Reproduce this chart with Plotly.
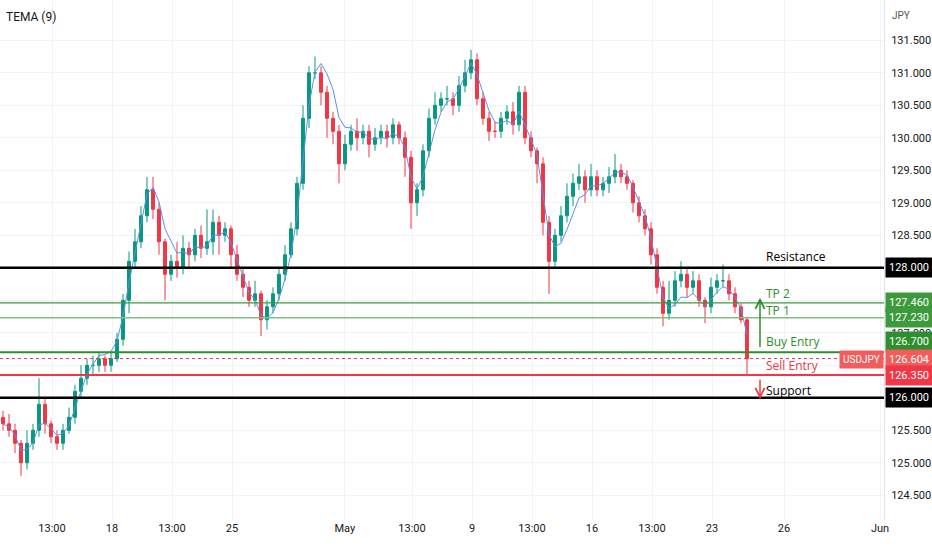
import numpy as np
import plotly.graph_objects as go

# 4h candles, USDJPY, closes
closes = [125.6, 125.5, 125.3, 125.0, 125.3, 125.5, 125.9, 125.6, 125.4, 125.3,
          125.5, 125.7, 126.1, 126.3, 126.5, 126.5, 126.6, 126.5, 126.6, 126.9,
          127.5, 128.1, 128.4, 128.8, 129.2, 128.9, 128.4, 127.9, 128.1, 128.0,
          128.3, 128.2, 128.5, 128.3, 128.4, 128.7, 128.5, 128.6, 128.2, 127.9,
          127.7, 127.5, 127.6, 127.2, 127.4, 127.6, 127.9, 128.2, 128.6, 129.3,
          130.3, 131.0, 131.0, 130.7, 130.3, 130.1, 129.6, 129.9, 130.1, 130.0,
          130.1, 129.9, 130.0, 130.1, 130.0, 130.2, 130.0, 129.7, 129.0, 129.2,
          129.8, 130.3, 130.5, 130.6, 130.6, 130.5, 130.8, 131.0, 131.2, 130.6,
          130.3, 130.1, 130.1, 130.3, 130.4, 130.2, 130.7, 130.0, 129.8, 129.6,
          128.7, 128.1, 128.5, 128.8, 129.1, 129.3, 129.4, 129.2, 129.4, 129.2,
          129.3, 129.4, 129.5, 129.4, 129.3, 129.0, 128.8, 128.6, 128.2, 127.7,
          127.3, 127.5, 127.8, 127.9, 127.7, 127.8, 127.5, 127.4, 127.7, 127.8,
          127.8, 127.6, 127.4, 127.2, 126.6]
wick_hi = [0.10, 0.15, 0.10, 0.05, 0.20, 0.10, 0.40, 0.10, 0.05, 0.10,
           0.10, 0.15, 0.10, 0.20, 0.10, 0.15, 0.10, 0.05, 0.10, 0.10,
           0.10, 0.15, 0.20, 0.15, 0.20, 0.20, 0.10, 0.05, 0.10, 0.30,
           0.20, 0.10, 0.10, 0.15, 0.50, 0.20, 0.10, 0.10, 0.05, 0.15,
           0.10, 0.10, 0.20, 0.05, 0.10, 0.10, 0.10, 0.15, 0.10, 0.10,
           0.20, 0.10, 0.25, 0.10, 0.10, 0.10, 0.10, 0.15, 0.10, 0.20,
           0.10, 0.10, 0.15, 0.10, 0.10, 0.10, 0.05, 0.10, 0.10, 0.10,
           0.10, 0.15, 0.20, 0.10, 0.20, 0.10, 0.15, 0.20, 0.15, 0.10,
           0.10, 0.10, 0.15, 0.10, 0.10, 0.15, 0.10, 0.10, 0.10, 0.05,
           0.10, 0.10, 0.10, 0.15, 0.20, 0.15, 0.20, 0.10, 0.20, 0.10,
           0.10, 0.15, 0.25, 0.10, 0.10, 0.05, 0.10, 0.10, 0.10, 0.10,
           0.10, 0.30, 0.15, 0.20, 0.10, 0.15, 0.10, 0.05, 0.15, 0.10,
           0.25, 0.10, 0.10, 0.05, 0.05]
wick_lo = [0.10, 0.10, 0.15, 0.20, 0.10, 0.10, 0.10, 0.15, 0.10, 0.10,
           0.10, 0.05, 0.10, 0.10, 0.10, 0.15, 0.10, 0.10, 0.10, 0.05,
           0.10, 0.20, 0.10, 0.10, 0.10, 0.15, 0.20, 0.40, 0.10, 0.15,
           0.10, 0.20, 0.10, 0.15, 0.10, 0.20, 0.30, 0.10, 0.20, 0.10,
           0.15, 0.10, 0.10, 0.25, 0.15, 0.10, 0.10, 0.10, 0.05, 0.10,
           0.10, 0.15, 0.10, 0.20, 0.30, 0.20, 0.30, 0.10, 0.10, 0.20,
           0.10, 0.20, 0.10, 0.10, 0.15, 0.10, 0.10, 0.30, 0.40, 0.20,
           0.10, 0.10, 0.10, 0.10, 0.10, 0.15, 0.10, 0.10, 0.10, 0.10,
           0.10, 0.15, 0.10, 0.10, 0.10, 0.15, 0.10, 0.10, 0.10, 0.30,
           0.20, 0.50, 0.10, 0.10, 0.10, 0.15, 0.10, 0.20, 0.10, 0.10,
           0.10, 0.15, 0.10, 0.10, 0.10, 0.15, 0.10, 0.10, 0.15, 0.10,
           0.20, 0.10, 0.10, 0.10, 0.15, 0.10, 0.10, 0.25, 0.10, 0.10,
           0.10, 0.10, 0.10, 0.05, 0.25]
first_open = 125.7

# levels
resistance, tp2, tp1, buy_entry, last_price, sell_entry, support = \
    128.0, 127.46, 127.23, 126.7, 126.604, 126.35, 126.0

tick_vals = [-2.5, 0, 2.5, 5, 9.7, 12.5, 15, 17.5, 20, 22.5, 25, 28, 32]
tick_text = ["13:00", "18", "13:00", "25", "May", "13:00", "9", "13:00",
             "16", "13:00", "23", "26", "Jun"]
price_ticks = [124.5, 125, 125.5, 126, 126.5, 127, 127.5, 128, 128.5, 129,
               129.5, 130, 130.5, 131, 131.5]

GREEN, RED = "#089981", "#f23645"
n = len(closes)
x = [(i * 6 + 3 - 112) / 24 for i in range(n)]
opens = [first_open] + closes[:-1]
highs = [max(o, c) + w for o, c, w in zip(opens, closes, wick_hi)]
lows = [min(o, c) - w for o, c, w in zip(opens, closes, wick_lo)]


def ema(v, p):
    a = 2 / (p + 1)
    out = [v[0]]
    for val in v[1:]:
        out.append(a * val + (1 - a) * out[-1])
    return np.array(out)


e1 = ema(closes, 9)
e2 = ema(e1, 9)
e3 = ema(e2, 9)
tema = 3 * e1 - 3 * e2 + e3

fig = go.Figure()
fig.add_trace(go.Candlestick(
    x=x, open=opens, high=highs, low=lows, close=closes,
    increasing=dict(line=dict(color=GREEN, width=1), fillcolor=GREEN),
    decreasing=dict(line=dict(color=RED, width=1), fillcolor=RED),
    whiskerwidth=0, showlegend=False,
))
fig.add_trace(go.Scatter(x=x, y=tema, mode="lines",
                         line=dict(color="#5b8ff0", width=1), showlegend=False))

X0, X1 = -112 / 24, (884 - 112) / 24
lines = [(resistance, "#000000", 2.5, "solid"), (tp2, "#3c9a3c", 1.2, "solid"),
         (tp1, "#7fbf7f", 1.5, "solid"), (buy_entry, "#2f8f2f", 2, "solid"),
         (last_price, "#f23645", 1, "dot"), (sell_entry, "#f23645", 2, "solid"),
         (support, "#000000", 2.5, "solid")]
for yv, col, w, d in lines:
    fig.add_shape(type="line", x0=X0, x1=X1, y0=yv, y1=yv,
                  line=dict(color=col, width=w, dash=d))

# right-axis price boxes (value, colour, vertical nudge so they don't collide)
boxes = [(resistance, "#000000", 0), (tp2, "#3c9a3c", 0), (tp1, "#3c9a3c", 0),
         (buy_entry, "#2f8f2f", 11), (last_price, "#f25c5c", -1),
         (sell_entry, "#f23645", 0), (support, "#000000", 0)]
for yv, col, ys in boxes:
    fig.add_annotation(x=1.0, xref="paper", y=yv, yref="y", xanchor="left",
                       text=f"{yv:.3f}", showarrow=False, bgcolor=col,
                       font=dict(color="white", size=11), borderpad=3,
                       xshift=1, yshift=ys)
fig.add_annotation(x=X1, y=last_price, xanchor="right", text="USDJPY",
                   showarrow=False, bgcolor="#f25c5c", yshift=-1,
                   font=dict(color="white", size=10), borderpad=3)

labels = [("Resistance", 128.18, "#000000"), ("TP 2", 127.60, "#2f8f2f"),
          ("TP 1", 127.34, "#2f8f2f"), ("Buy Entry", 126.86, "#2f8f2f"),
          ("Sell Entry", 126.49, "#f23645"), ("Support", 126.11, "#000000")]
for t, yv, col in labels:
    fig.add_annotation(x=(764 - 112) / 24, y=yv, xanchor="left", text=t,
                       showarrow=False, font=dict(color=col, size=12,
                                                  family="Open Sans"))

ax = (760 - 112) / 24
fig.add_annotation(x=ax, y=127.54, ax=ax, ay=126.76, xref="x", yref="y",
                   axref="x", ayref="y", showarrow=True, arrowhead=5,
                   arrowsize=1.2, arrowwidth=1.5, arrowcolor="#2f8f2f", text="")
fig.add_annotation(x=ax, y=125.98, ax=ax, ay=126.3, xref="x", yref="y",
                   axref="x", ayref="y", showarrow=True, arrowhead=5,
                   arrowsize=1.2, arrowwidth=1.5, arrowcolor="#f23645", text="")

fig.add_annotation(x=0.005, y=0.985, xref="paper", yref="paper", text="TEMA (9)",
                   showarrow=False, xanchor="left", font=dict(size=12, color="#131722"))
fig.add_annotation(x=1.0, y=0.985, xref="paper", yref="paper", text="JPY",
                   showarrow=False, xanchor="left", xshift=6,
                   font=dict(size=10, color="#555"))

fig.update_layout(
    width=932, height=550, plot_bgcolor="white", paper_bgcolor="white",
    margin=dict(l=0, r=48, t=0, b=30),
    font=dict(family="Roboto", size=11, color="#131722"),
    xaxis=dict(range=[X0, X1], tickvals=tick_vals, ticktext=tick_text,
               showgrid=True, gridcolor="#f0f3fa", zeroline=False,
               rangeslider=dict(visible=False), ticks="", showline=False,
               automargin=False, tickfont=dict(size=11)),
    yaxis=dict(range=[124.12, 132.12], side="right", tickvals=price_ticks,
               tickformat=".3f", showgrid=True, gridcolor="#f0f3fa",
               zeroline=False, ticks="", showline=True, linecolor="#e0e3eb",
               automargin=False, ticklabelstandoff=4),
)

fig.write_html("out.html", config={"displayModeBar": False})

# drop the default body margin so the 932x550 figure fills the window
with open("out.html", encoding="utf-8") as f:
    page = f.read()
page = page.replace("<body>", '<body style="margin:0;overflow:hidden">', 1)
with open("out.html", "w", encoding="utf-8") as f:
    f.write(page)
